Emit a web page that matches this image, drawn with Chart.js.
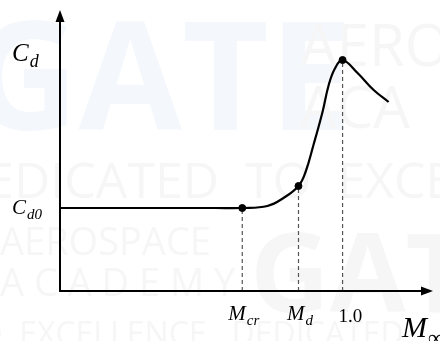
<!DOCTYPE html>
<html>
<head>
    <title>Drag divergence</title>
    <script src="https://cdn.jsdelivr.net/npm/chart.js"></script>
    <style>
        body { margin: 0; background: #fff; }
    </style>
</head>
<body>
    <canvas id="dragChart" width="440" height="341"></canvas>

    <script>
        // Curve values (Mach number vs drag coefficient, arbitrary units)
        const machValues = [0, 0.3, 0.55, 0.645, 0.734, 0.791, 0.844, 0.869, 0.897, 0.929, 0.950, 0.972, 1.0, 1.053, 1.110, 1.163];
        const cdValues = [0.83, 0.83, 0.83, 0.83, 0.85, 0.93, 1.05, 1.19, 1.46, 1.79, 2.05, 2.22, 2.31, 2.18, 2.01, 1.89];

        // Marked points: M_cr, M_d, and M = 1.0
        const markedMach = [0.645, 0.844, 1.0];
        const markedCd = [0.83, 1.05, 2.31];

        // Tick labels under the x axis (base text + subscript)
        const tickBase = ['M', 'M', '1.0'];
        const tickSub = ['cr', 'd', ''];

        const cd0 = 0.83;

        const curveData = machValues.map((m, i) => ({ x: m, y: cdValues[i] }));
        const markerData = markedMach.map((m, i) => ({ x: m, y: markedCd[i] }));

        // one dashed drop line per marked point
        const dropLines = markedMach.map((m, i) => ({
            type: 'line',
            data: [{ x: m, y: 0 }, { x: m, y: markedCd[i] }],
            borderColor: '#555',
            borderWidth: 1.2,
            borderDash: [4, 3],
            pointRadius: 0,
            fill: false
        }));

        const serif = '"Liberation Serif", "DejaVu Serif", serif';

        function subText(ctx, base, sub, x, y, size, subSize, align) {
            ctx.font = 'italic ' + size + 'px ' + serif;
            const bw = ctx.measureText(base).width;
            ctx.font = 'italic ' + subSize + 'px ' + serif;
            const sw = ctx.measureText(sub).width;
            let left = x;
            if (align === 'center') left = x - (bw + sw) / 2;
            ctx.font = 'italic ' + size + 'px ' + serif;
            ctx.fillText(base, left, y);
            ctx.font = 'italic ' + subSize + 'px ' + serif;
            ctx.fillText(sub, left + bw + 1, y + size * 0.25);
        }

        // faint watermark behind the plot
        const watermark = {
            id: 'watermark',
            beforeDraw(chart) {
                const ctx = chart.ctx;
                ctx.save();
                ctx.textBaseline = 'alphabetic';
                ctx.fillStyle = '#f4f8fc';
                ctx.font = 'bold 150px "Open Sans", sans-serif';
                ctx.fillText('GATE', -30, 130);
                ctx.fillStyle = '#f6f6f6';
                ctx.font = '58px "Open Sans", sans-serif';
                ctx.fillText('AERO', 300, 66);
                ctx.fillText('ACA', 300, 128);
                ctx.font = '50px "Open Sans", sans-serif';
                ctx.fillText('DEDICATED  TO  EXCELLENCE', -50, 198);
                ctx.font = '38px "Open Sans", sans-serif';
                ctx.fillText('AEROSPACE', 0, 255);
                ctx.fillText('A C A D E M Y', 0, 296);
                ctx.font = 'bold 110px "Open Sans", sans-serif';
                ctx.fillText('GATE', 250, 312);
                ctx.font = '32px "Open Sans", sans-serif';
                ctx.fillText('TO  EXCELLENCE   DEDICATED', -40, 345);
                ctx.restore();
            }
        };

        // axes with arrow heads and the math labels
        const axesAndLabels = {
            id: 'axesAndLabels',
            afterDraw(chart) {
                const ctx = chart.ctx;
                const xs = chart.scales.x;
                const ys = chart.scales.y;
                const x0 = xs.getPixelForValue(0);
                const y0 = ys.getPixelForValue(0);
                const xEnd = chart.chartArea.right;
                const yTop = chart.chartArea.top;

                ctx.save();
                ctx.strokeStyle = '#000';
                ctx.fillStyle = '#000';
                ctx.lineWidth = 2;
                ctx.beginPath();
                ctx.moveTo(x0, y0 + 1);
                ctx.lineTo(x0, yTop + 8);
                ctx.moveTo(x0 - 1, y0);
                ctx.lineTo(xEnd - 8, y0);
                ctx.stroke();

                ctx.beginPath();
                ctx.moveTo(x0, yTop);
                ctx.lineTo(x0 - 4.5, yTop + 12);
                ctx.lineTo(x0 + 4.5, yTop + 12);
                ctx.closePath();
                ctx.fill();
                ctx.beginPath();
                ctx.moveTo(xEnd, y0);
                ctx.lineTo(xEnd - 12, y0 - 4.5);
                ctx.lineTo(xEnd - 12, y0 + 4.5);
                ctx.closePath();
                ctx.fill();

                ctx.textBaseline = 'alphabetic';
                // x tick labels
                markedMach.forEach((m, i) => {
                    const px = xs.getPixelForValue(m);
                    if (tickSub[i]) {
                        subText(ctx, tickBase[i], tickSub[i], px + 1, y0 + 29, 21, 15, 'center');
                    } else {
                        ctx.font = '19px ' + serif;
                        ctx.textAlign = 'left';
                        ctx.fillText(tickBase[i], px - 4, y0 + 31);
                    }
                });
                // axis titles
                subText(ctx, 'C', 'd', 12, 61, 25, 18, 'left');
                subText(ctx, 'C', 'd0', 12, ys.getPixelForValue(cd0) + 6, 21, 15, 'left');
                subText(ctx, 'M', '\u221e', 402, 337, 30, 22, 'left');
                ctx.restore();
            }
        };

        const ctx = document.getElementById('dragChart').getContext('2d');
        const chart = new Chart(ctx, {
            type: 'line',
            data: {
                datasets: [
                    {
                        data: curveData,
                        borderColor: '#000',
                        borderWidth: 2.2,
                        pointRadius: 0,
                        tension: 0.4,
                        fill: false
                    },
                    {
                        type: 'scatter',
                        data: markerData,
                        backgroundColor: '#000',
                        borderColor: '#000',
                        pointRadius: 3.5
                    },
                    ...dropLines
                ]
            },
            options: {
                responsive: false,
                animation: false,
                events: [],
                layout: { padding: { left: 60, top: 10, right: 7, bottom: 50 } },
                plugins: {
                    legend: { display: false },
                    tooltip: { enabled: false }
                },
                scales: {
                    x: { type: 'linear', min: 0, max: 1.32, display: false },
                    y: { type: 'linear', min: 0, max: 2.81, display: false }
                }
            },
            plugins: [watermark, axesAndLabels]
        });
    </script>
</body>
</html>
